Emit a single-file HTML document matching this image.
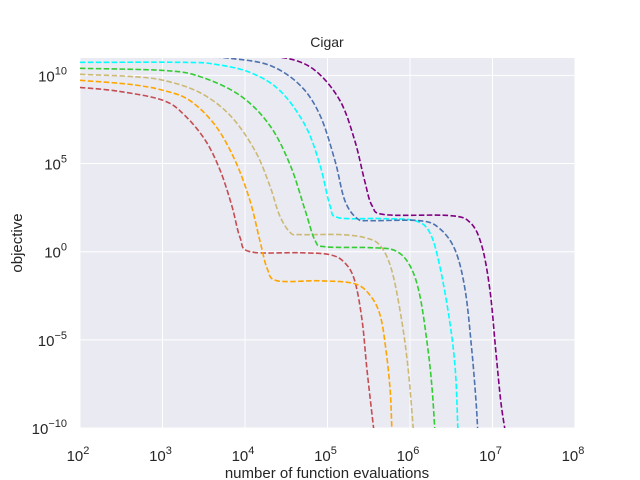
<!DOCTYPE html>
<html><head><meta charset="utf-8"><style>
body{margin:0;background:#fff;}
svg{display:block;font-family:"Liberation Sans",sans-serif;}
</style></head><body>
<svg id="chart" width="640" height="480" viewBox="0 0 640 480" xmlns="http://www.w3.org/2000/svg">
<defs><clipPath id="pc"><rect x="80" y="58" width="495" height="370"/></clipPath></defs>
<rect x="80" y="58" width="495" height="370" fill="#eaeaf2"/>
<g id="grid"></g>
<g id="series" clip-path="url(#pc)"></g>
<g id="ticks"></g>
<text x="327" y="47" text-anchor="middle" font-size="14" fill="#262626">Cigar</text>
<text x="327" y="478" text-anchor="middle" font-size="15" fill="#262626">number of function evaluations</text>
<text transform="translate(22,243) rotate(-90)" text-anchor="middle" font-size="15" fill="#262626">objective</text>
</svg>
<script>
const xTicks=[2,3,4,5,6,7,8];
const yTicks=[-10,-5,0,5,10];
const seriesNames=["red","orange","tan","green","cyan","blue","purple"];
const seriesColors=["#c44e52","#ffa500","#ccb974","#32cd32","#00ffff","#4c72b0","#800080"];
const redLogX=[2.00,2.48,3.01,3.27,3.52,3.70,3.84,3.94,4.06,4.67,5.03,5.21,5.33,5.42,5.48,5.56];
const redLogY=[9.32,9.09,8.58,7.73,6.31,4.60,2.61,0.80,0.00,-0.06,-0.17,-0.63,-1.65,-3.92,-6.76,-10.06];
const orangeLogX=[2.00,2.61,3.01,3.33,3.64,3.88,4.06,4.18,4.27,4.39,4.91,5.33,5.52,5.64,5.71,5.76,5.78];
const orangeLogY=[9.72,9.49,9.15,8.58,7.16,5.17,2.90,0.63,-0.97,-1.65,-1.65,-1.82,-2.50,-3.64,-5.63,-7.90,-10.06];
const tanLogX=[2.00,2.61,3.01,3.45,3.82,4.12,4.30,4.42,4.55,4.67,5.15,5.45,5.64,5.78,5.90,5.98,6.04];
const tanLogY=[10.06,9.94,9.72,9.03,7.73,5.74,3.75,2.05,1.08,0.97,0.97,0.80,0.34,-1.08,-3.92,-6.76,-10.06];
const greenLogX=[2.00,3.01,3.45,3.94,4.30,4.55,4.73,4.85,4.97,5.52,5.82,6.00,6.12,6.22,6.27,6.30];
const greenLogY=[10.40,10.28,9.94,8.86,7.16,4.89,2.33,0.63,0.28,0.23,0.06,-0.80,-2.50,-5.63,-7.90,-10.06];
const cyanLogX=[2.00,3.27,3.64,4.06,4.42,4.73,4.91,5.03,5.13,5.64,6.06,6.24,6.36,6.48,6.55,6.58];
const cyanLogY=[10.74,10.74,10.63,10.17,9.15,7.16,4.89,2.61,1.93,1.88,1.76,1.08,-0.80,-3.92,-6.76,-10.06];
const blueLogX=[3.45,3.82,4.30,4.67,4.91,5.09,5.21,5.36,5.52,6.12,6.36,6.55,6.67,6.75,6.80,6.82];
const blueLogY=[11.08,10.97,10.57,9.43,7.73,5.17,2.90,1.88,1.76,1.76,1.31,0.06,-2.22,-5.63,-8.47,-10.06];
const purpleLogX=[4.06,4.51,4.85,5.15,5.33,5.45,5.54,5.70,6.48,6.73,6.87,6.97,7.04,7.10,7.15];
const purpleLogY=[11.08,10.97,10.28,8.58,6.31,4.03,2.61,2.10,2.05,1.65,0.34,-2.22,-5.63,-8.47,-10.06];
const allX=[redLogX,orangeLogX,tanLogX,greenLogX,cyanLogX,blueLogX,purpleLogX];
const allY=[redLogY,orangeLogY,tanLogY,greenLogY,cyanLogY,blueLogY,purpleLogY];

const NS="http://www.w3.org/2000/svg";
const X0=80,X1=575,Y0=428;
function sx(l){return X0+(l-2)*(X1-X0)/6;}
function sy(l){return Y0-(l+10)*17.63;}

const grid=document.getElementById('grid');
const ticks=document.getElementById('ticks');
xTicks.forEach(t=>{
  const l=document.createElementNS(NS,'line');
  
  
  l.setAttribute('x1',sx(t));l.setAttribute('x2',sx(t));l.setAttribute('y1',58);l.setAttribute('y2',428);
  l.setAttribute('stroke','#fff');l.setAttribute('stroke-width','1');
  grid.appendChild(l);
  const tx=document.createElementNS(NS,'text');
  
  
  tx.setAttribute('x',sx(t)-2);tx.setAttribute('y',461);tx.setAttribute('text-anchor','middle');
  tx.setAttribute('font-size','15');tx.setAttribute('fill','#262626');
  tx.innerHTML='10<tspan dy="-7" font-size="11">'+t+'</tspan>';
  ticks.appendChild(tx);
});
yTicks.forEach(t=>{
  const l=document.createElementNS(NS,'line');
  
  
  l.setAttribute('x1',80);l.setAttribute('x2',575);l.setAttribute('y1',sy(t));l.setAttribute('y2',sy(t));
  l.setAttribute('stroke','#fff');l.setAttribute('stroke-width','1');
  grid.appendChild(l);
  const tx=document.createElementNS(NS,'text');
  
  
  tx.setAttribute('x',67);tx.setAttribute('y',sy(t)+6);tx.setAttribute('text-anchor','end');
  tx.setAttribute('font-size','15');tx.setAttribute('fill','#262626');
  const s=t<0?'\u2212'+(-t):''+t;
  tx.innerHTML='10<tspan dy="-7" font-size="11">'+s+'</tspan>';
  ticks.appendChild(tx);
});

const sg=document.getElementById('series');
allX.forEach((xs,i)=>{
  const ys=allY[i];
  const p=xs.map((x,j)=>[sx(x),sy(ys[j])]);
  let d='M'+p[0][0]+','+p[0][1];
  for(let j=0;j<p.length-1;j++){
    const a=p[j-1]||p[j],b=p[j],c=p[j+1],e=p[j+2]||c;
    const c1=[b[0]+(c[0]-a[0])/6,b[1]+(c[1]-a[1])/6];
    const c2=[c[0]-(e[0]-b[0])/6,c[1]-(e[1]-b[1])/6];
    d+=' C'+c1[0]+','+c1[1]+' '+c2[0]+','+c2[1]+' '+c[0]+','+c[1];
  }
  const path=document.createElementNS(NS,'path');
  
  
  path.setAttribute('d',d);path.setAttribute('fill','none');
  path.setAttribute('stroke',seriesColors[i]);path.setAttribute('stroke-width','1.6');
  path.setAttribute('stroke-dasharray','5.5,2.4');
  sg.appendChild(path);
});
</script>
</body></html>
